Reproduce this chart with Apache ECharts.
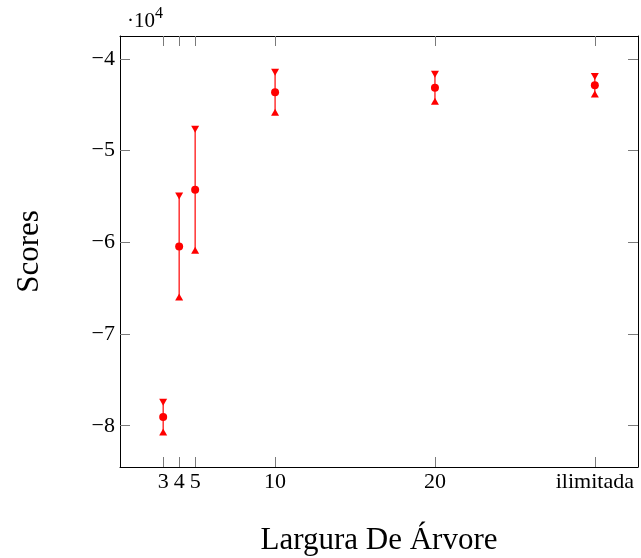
<!DOCTYPE html>
<html><head><meta charset="utf-8">
<script src="https://cdn.jsdelivr.net/npm/echarts@6/dist/echarts.min.js"></script>
<style>html,body{margin:0;padding:0;background:#fff}#c{width:641px;height:558px}</style>
</head><body><div id="c"></div>
<script>
// ---- data ----
const widths = [3, 4, 5, 10, 20, 30];
const xTickLabels = ['3', '4', '5', '10', '20', 'ilimitada'];
const scoreMeans = [-79060, -60450, -54260, -43630, -43150, -42870];
const scoreErrors = [1630, 5510, 6600, 2180, 1470, 950];
const yTicks = [-80000, -70000, -60000, -50000, -40000];

const FONT = '"Liberation Serif", "DejaVu Serif", serif';
const points = widths.map((w, i) => [w, scoreMeans[i], scoreErrors[i]]);

const chart = echarts.init(document.getElementById('c'), null, {renderer: 'canvas'});
const tickStyle = {color: '#7a7a7a', width: 1};
const xLab = v => { const i = widths.indexOf(v); return i >= 0 ? xTickLabels[i] : ''; };
const yLab = v => (v < 0 ? '\u2212' : '') + Math.abs(v / 10000);

chart.setOption({
  animation: false,
  backgroundColor: '#fff',
  grid: {left: 120, right: 3, top: 36, bottom: 91, show: false, containLabel: false, outerBoundsMode: 'none'},
  xAxis: [{
    type: 'value', min: 0.3, max: 32.7, position: 'bottom',
    name: 'Largura De \u00c1rvore', nameLocation: 'middle', nameGap: 58,
    nameTextStyle: {fontFamily: FONT, fontSize: 31, color: '#000'},
    axisLine: {show: true, lineStyle: {color: '#000', width: 1}},
    axisTick: {show: true, inside: true, length: 10, customValues: widths, lineStyle: tickStyle},
    axisLabel: {show: true, customValues: widths, formatter: xLab, fontFamily: FONT, fontSize: 22, color: '#000', margin: 4},
    splitLine: {show: false}
  }, {
    type: 'value', min: 0.3, max: 32.7, position: 'top',
    axisLine: {show: true, lineStyle: {color: '#000', width: 1}},
    axisTick: {show: true, inside: true, length: 10, customValues: widths, lineStyle: tickStyle},
    axisLabel: {show: false}, splitLine: {show: false}
  }],
  yAxis: [{
    type: 'value', min: -84500, max: -37500, position: 'left',
    name: 'Scores', nameLocation: 'middle', nameGap: 75, nameRotate: 90,
    nameTextStyle: {fontFamily: FONT, fontSize: 31, color: '#000'},
    axisLine: {show: true, lineStyle: {color: '#000', width: 1}},
    axisTick: {show: true, inside: true, length: 10, customValues: yTicks, lineStyle: tickStyle},
    axisLabel: {show: true, customValues: yTicks, formatter: yLab, fontFamily: FONT, fontSize: 22, color: '#000', margin: 5},
    splitLine: {show: false}
  }, {
    type: 'value', min: -84500, max: -37500, position: 'right',
    axisLine: {show: true, lineStyle: {color: '#000', width: 1}},
    axisTick: {show: true, inside: true, length: 10, customValues: yTicks, lineStyle: tickStyle},
    axisLabel: {show: false}, splitLine: {show: false}
  }],
  graphic: [{
    type: 'text', left: 127, top: 11,
    style: {text: '\u00b710', fontFamily: FONT, fontSize: 21, fill: '#000'}
  }, {
    type: 'text', left: 155, top: 6,
    style: {text: '4', fontFamily: FONT, fontSize: 16, fill: '#000'}
  }],
  series: [{
    type: 'custom',
    data: points,
    encode: {x: 0, y: 1},
    renderItem: function (params, api) {
      const x = api.value(0), m = api.value(1), e = api.value(2);
      const t = api.coord([x, m + e]);
      const b = api.coord([x, m - e]);
      const w = 4, h = 7;
      return {type: 'group', children: [
        {type: 'line', shape: {x1: t[0], y1: t[1], x2: b[0], y2: b[1]}, style: {stroke: '#ff0000', lineWidth: 1.2}},
        {type: 'polygon', shape: {points: [[t[0] - w, t[1] - h / 2], [t[0] + w, t[1] - h / 2], [t[0], t[1] + h / 2]]}, style: {fill: '#ff0000'}},
        {type: 'polygon', shape: {points: [[b[0] - w, b[1] + h / 2], [b[0] + w, b[1] + h / 2], [b[0], b[1] - h / 2]]}, style: {fill: '#ff0000'}}
      ]};
    },
    z: 2
  }, {
    type: 'scatter',
    data: points.map(p => [p[0], p[1]]),
    symbol: 'circle', symbolSize: 8,
    itemStyle: {color: '#ff0000', opacity: 1},
    z: 3
  }]
});
</script>
</body></html>
